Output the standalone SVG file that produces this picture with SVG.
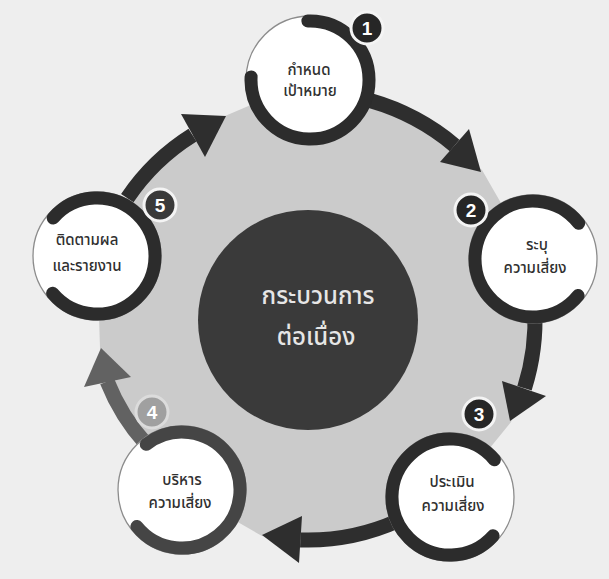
<svg xmlns="http://www.w3.org/2000/svg" width="609" height="579" viewBox="0 0 609 579">
<style>
.ring{fill:none;stroke:#2c2c2c;stroke-width:13;stroke-linecap:round}
.face{fill:#ffffff;stroke:#8c8c8c;stroke-width:1.3}
.shaft{fill:none;stroke:#2e2e2e;stroke-width:15}
.head{fill:#2e2e2e}
.lbl{font-family:"Noto Sans Thai","Noto Sans","DejaVu Sans",sans-serif;font-size:15px;font-weight:500;fill:#303030;text-anchor:middle}
.ctr{font-family:"Noto Sans Thai","Noto Sans","DejaVu Sans",sans-serif;font-size:24px;font-weight:500;fill:#e6e6e6;text-anchor:middle}
.badge{fill:#262626;stroke:#f4f4f4;stroke-width:3}
.num{font-family:"Liberation Sans",Arial,sans-serif;font-size:19px;font-weight:bold;fill:#ffffff;text-anchor:middle}
</style>
<rect x="0" y="0" width="609" height="579" fill="#eeeeee"/>
<path id="backdrop" d="M 370.8 100.8 A 228 228 0 0 1 454.6 145.4 L 482 170 L 533 259 L 534.7 308 A 227 227 0 0 1 524.5 388.3 L 511 422 L 450 497 L 397.5 521 A 220 220 0 0 1 300.3 539.9 L 262 536 L 182 490 L 146.3 444.3 A 210 210 0 0 1 107.2 381.4 L 100 348 L 97 256 L 127.3 198.1 A 218 218 0 0 1 192.5 135.1 L 225 116 L 310 80 Z" fill="#cbcbcb"/>
<g id="center">
<circle cx="308" cy="320" r="110" fill="#3a3a3a"/>
<text class="ctr" x="318" y="304">กระบวนการ</text>
<text class="ctr" x="316" y="345">ต่อเนื่อง</text>
</g>
<g id="connectors">
<path class="shaft" d="M 370.8 100.8 A 228 228 0 0 1 454.6 145.4"/>
<polygon class="head" points="469,129 481,172 440,162"/>
<path class="shaft" d="M 534.7 308 A 227 227 0 0 1 524.5 388.3"/>
<polygon class="head" points="546,396 510,421 502,381"/>
<path class="shaft" d="M 397.5 521 A 220 220 0 0 1 300.3 539.9"/>
<polygon class="head" points="302,516 262,535 299,563"/>
<path class="shaft" style="stroke:#626262" d="M 146.3 444.3 A 210 210 0 0 1 107.2 381.4"/>
<polygon class="head" style="fill:#626262" points="84,387 101,348 131,377"/>
<path class="shaft" d="M 127.3 198.1 A 218 218 0 0 1 192.5 135.1"/>
<polygon class="head" points="181,114 226,116 205,157"/>
</g>
<g id="node1">
<circle class="face" cx="310" cy="80" r="64"/>
<path class="ring" d="M 307.9 21 A 59 59 0 1 1 251.1 76.9"/>
<circle class="badge" cx="367" cy="28" r="16"/>
<text class="num" x="367" y="35">1</text>
<text class="lbl" x="309" y="75">กำหนด</text>
<text class="lbl" x="310" y="96">เป้าหมาย</text>
</g>
<g id="node2">
<circle class="face" cx="533" cy="259" r="64"/>
<path class="ring" d="M 578.1 295.5 A 58 58 0 1 1 578.7 223.3"/>
<circle class="badge" cx="471" cy="210" r="16"/>
<text class="num" x="471" y="217">2</text>
<text class="lbl" x="537" y="250">ระบุ</text>
<text class="lbl" x="535" y="273">ความเสี่ยง</text>
</g>
<g id="node3">
<circle class="face" cx="450" cy="497" r="64"/>
<path class="ring" d="M 493.1 535.8 A 58 58 0 1 1 494.4 459.7"/>
<circle class="badge" cx="479" cy="414" r="16"/>
<text class="num" x="479" y="421">3</text>
<text class="lbl" x="452" y="487">ประเมิน</text>
<text class="lbl" x="453" y="511">ความเสี่ยง</text>
</g>
<g id="node4">
<circle class="face" cx="182" cy="490" r="64"/>
<path class="ring" style="stroke:#454545" d="M 146.3 444.3 A 58 58 0 1 1 136.9 526.5"/>
<circle class="badge" style="fill:#a0a0a0;stroke:#dcdcdc" cx="152" cy="412" r="16"/>
<text class="num" x="152" y="419">4</text>
<text class="lbl" x="182" y="485">บริหาร</text>
<text class="lbl" x="180" y="508">ความเสี่ยง</text>
</g>
<g id="node5">
<circle class="face" cx="97" cy="256" r="64"/>
<path class="ring" d="M 53.2 218 A 58 58 0 1 1 52.6 293.3"/>
<circle class="badge" style="fill:#3a3a3a" cx="160" cy="205" r="16"/>
<text class="num" x="160" y="212">5</text>
<text class="lbl" x="87" y="245">ติดตามผล</text>
<text class="lbl" x="87" y="271">และรายงาน</text>
</g>
</svg>
